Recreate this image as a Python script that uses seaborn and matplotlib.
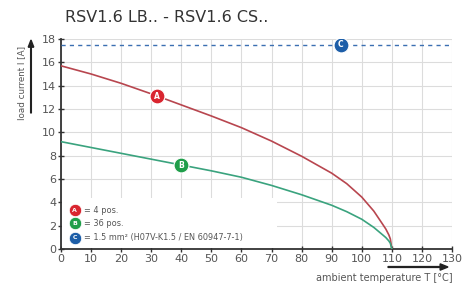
import matplotlib
matplotlib.use("Agg")
import matplotlib.pyplot as plt
import matplotlib.patches as mpatches
import seaborn as sns
import pandas as pd
import numpy as np

temp_a = [0, 10, 20, 30, 40, 50, 60, 70, 80, 90, 95, 100, 104, 107, 108, 109, 109.5, 110]
current_a = [15.7, 15.0, 14.2, 13.3, 12.35, 11.4, 10.4, 9.25, 7.95, 6.5, 5.6, 4.45, 3.25, 2.1, 1.71, 1.21, 0.86, 0.0]
temp_b = [0, 10, 20, 30, 40, 50, 60, 70, 80, 90, 95, 100, 104, 107, 108, 109, 109.5, 110]
current_b = [9.2, 8.7, 8.2, 7.7, 7.2, 6.7, 6.15, 5.45, 4.65, 3.75, 3.2, 2.55, 1.85, 1.2, 0.98, 0.69, 0.49, 0.0]
limit_c = 17.5
marker_labels = ["A", "B", "C"]
marker_x = [32, 40, 93]
legend_texts = ["= 4 pos.", "= 36 pos.", "= 1.5 mm² (H07V-K1.5 / EN 60947-7-1)"]
title = "RSV1.6 LB.. - RSV1.6 CS.."
xlabel = "ambient temperature T [°C]"
ylabel = "load current I [A]"

sns.set_theme(style="white")
plt.rcParams['font.family'] = ['DejaVu Sans']

fig = plt.figure(figsize=(4.63, 2.87), dpi=100)
ax = fig.add_axes([61/463, 38/287, 391/463, 210/287])

red_line = "#b8464f"
green_line = "#3aa37e"
red_m = "#d9252f"
green_m = "#1f9e4a"
blue_m = "#1d5ea8"

df_a = pd.DataFrame({"T": temp_a, "I": current_a})
df_b = pd.DataFrame({"T": temp_b, "I": current_b})
sns.lineplot(data=df_a, x="T", y="I", ax=ax, color=red_line, lw=1.2, zorder=3)
sns.lineplot(data=df_b, x="T", y="I", ax=ax, color=green_line, lw=1.2, zorder=3)
ax.axhline(limit_c, color="#3b6fb2", lw=1.0, ls=(0, (3, 3)), zorder=3)

my = [np.interp(marker_x[0], temp_a, current_a), np.interp(marker_x[1], temp_b, current_b), limit_c]
mcols = [red_m, green_m, blue_m]
for lab, x, y, c in zip(marker_labels, marker_x, my, mcols):
    ax.scatter([x], [y], s=115, color=c, edgecolor="white", linewidth=0.8, zorder=5)
    ax.text(x, y, lab, color="white", fontsize=5.5, fontweight="bold", ha="center", va="center", zorder=6)

ax.set_xlim(0, 130)
ax.set_ylim(0, 18)
ax.set_xticks(range(0, 131, 10))
ax.set_yticks(range(0, 19, 2))
ax.grid(True, color="#dcdcdc", lw=0.8)
ax.set_axisbelow(True)
for s in ["top", "right"]:
    ax.spines[s].set_visible(False)
for s in ["left", "bottom"]:
    ax.spines[s].set_color("#333333")
    ax.spines[s].set_linewidth(1.3)
ax.tick_params(axis="both", which="both", direction="inout", length=5, width=1, color="#333333",
               labelsize=8, labelcolor="#555555", left=True, bottom=True, pad=1)
ax.set_xlabel("")
ax.set_ylabel("")

# legend box
legend_y = [3.34, 2.2, 0.95]
ax.add_patch(mpatches.Rectangle((0.3, 0.1), 71.5, 4.3, color="white", zorder=2.5, lw=0))
for lab, y, c, t in zip(marker_labels, legend_y, mcols, legend_texts):
    ax.scatter([4.6], [y], s=80, color=c, edgecolor="white", linewidth=0.6, zorder=5)
    ax.text(4.6, y, lab, color="white", fontsize=4.5, fontweight="bold", ha="center", va="center", zorder=6)
    ax.text(7.8, y, t, fontsize=5.9, color="#555555", va="center", ha="left", zorder=6)

fig.text(65/463, 1 - 18/287, title, fontsize=11.5, color="#333333", va="center", ha="left")

# y label with arrow
fig.text(22/463, 1 - 83/287, ylabel, rotation=90, fontsize=6.3, color="#555555", ha="center", va="center")
fig.patches.append(mpatches.FancyArrow(31/463, 1 - 113/287, 0, 73/287, width=0.0015,
                    head_width=0.012, head_length=0.025, length_includes_head=True,
                    color="#222222", transform=fig.transFigure, figure=fig))
# x label with arrow
fig.text(453/463, 1 - 278/287, xlabel, fontsize=7, color="#555555", ha="right", va="center")
fig.patches.append(mpatches.FancyArrow(388/463, 1 - 267/287, 60/463, 0, width=0.003,
                    head_width=0.022, head_length=0.017, length_includes_head=True,
                    color="#222222", transform=fig.transFigure, figure=fig))

fig.savefig("out.png", dpi=100)
